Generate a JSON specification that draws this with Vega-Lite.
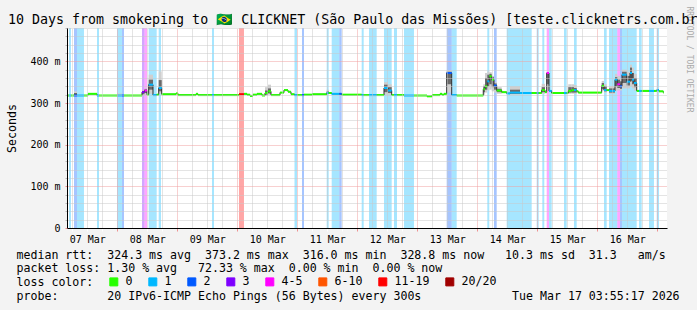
{
  "$schema": "https://vega.github.io/schema/vega-lite/v6.json",
  "width": 600,
  "height": 200,
  "autosize": {"type": "none"},
  "padding": {"left": 67, "top": 28, "right": 30, "bottom": 82},
  "background": "#f3f3f3",
  "title": {
    "text": "10 Days from smokeping to 🇧🇷 CLICKNET (São Paulo das Missões) [teste.clicknetrs.com.br]",
    "anchor": "start", "frame": "group", "dx": -59, "dy": 37, "offset": 6, "baseline": "alphabetic",
    "font": "DejaVu Sans Mono", "fontSize": 13.3, "fontWeight": "normal", "color": "#000000"
  },
  "config": {"view": {"fill": "white", "stroke": null}, "font": "DejaVu Sans Mono"},
  "datasets": {
    "loss": [
      {"t": "2026-03-07T04:43:00Z", "t2": "2026-03-07T05:31:00Z", "l": "1"},
      {"t": "2026-03-07T06:43:00Z", "t2": "2026-03-07T07:55:00Z", "l": "2"},
      {"t": "2026-03-07T07:55:00Z", "t2": "2026-03-07T10:43:00Z", "l": "1"},
      {"t": "2026-03-07T15:55:00Z", "t2": "2026-03-07T16:43:00Z", "l": "1"},
      {"t": "2026-03-07T23:55:00Z", "t2": "2026-03-08T01:55:00Z", "l": "1"},
      {"t": "2026-03-08T01:55:00Z", "t2": "2026-03-08T02:43:00Z", "l": "2"},
      {"t": "2026-03-08T09:55:00Z", "t2": "2026-03-08T10:55:00Z", "l": "3"},
      {"t": "2026-03-08T10:55:00Z", "t2": "2026-03-08T11:55:00Z", "l": "4-5"},
      {"t": "2026-03-08T12:36:00Z", "t2": "2026-03-08T15:48:00Z", "l": "1"},
      {"t": "2026-03-08T16:36:00Z", "t2": "2026-03-08T17:31:00Z", "l": "1"},
      {"t": "2026-03-09T13:55:00Z", "t2": "2026-03-09T14:43:00Z", "l": "1"},
      {"t": "2026-03-10T00:43:00Z", "t2": "2026-03-10T02:43:00Z", "l": "11-19"},
      {"t": "2026-03-10T22:55:00Z", "t2": "2026-03-10T23:55:00Z", "l": "1"},
      {"t": "2026-03-11T01:55:00Z", "t2": "2026-03-11T02:43:00Z", "l": "2"},
      {"t": "2026-03-11T11:48:00Z", "t2": "2026-03-11T12:36:00Z", "l": "1"},
      {"t": "2026-03-11T13:48:00Z", "t2": "2026-03-11T16:50:00Z", "l": "1"},
      {"t": "2026-03-11T16:50:00Z", "t2": "2026-03-11T17:48:00Z", "l": "2"},
      {"t": "2026-03-12T01:48:00Z", "t2": "2026-03-12T02:36:00Z", "l": "1"},
      {"t": "2026-03-12T04:43:00Z", "t2": "2026-03-12T07:48:00Z", "l": "1"},
      {"t": "2026-03-12T10:43:00Z", "t2": "2026-03-12T13:48:00Z", "l": "1"},
      {"t": "2026-03-12T14:43:00Z", "t2": "2026-03-12T15:55:00Z", "l": "1"},
      {"t": "2026-03-12T18:43:00Z", "t2": "2026-03-12T22:43:00Z", "l": "1"},
      {"t": "2026-03-13T11:48:00Z", "t2": "2026-03-13T13:48:00Z", "l": "2"},
      {"t": "2026-03-13T13:48:00Z", "t2": "2026-03-13T15:48:00Z", "l": "1"},
      {"t": "2026-03-14T04:02:00Z", "t2": "2026-03-14T04:50:00Z", "l": "1"},
      {"t": "2026-03-14T06:43:00Z", "t2": "2026-03-14T07:48:00Z", "l": "2"},
      {"t": "2026-03-14T11:48:00Z", "t2": "2026-03-14T21:48:00Z", "l": "1"},
      {"t": "2026-03-14T23:48:00Z", "t2": "2026-03-15T00:36:00Z", "l": "1"},
      {"t": "2026-03-15T02:02:00Z", "t2": "2026-03-15T02:50:00Z", "l": "1"},
      {"t": "2026-03-15T03:48:00Z", "t2": "2026-03-15T04:43:00Z", "l": "4-5"},
      {"t": "2026-03-15T04:43:00Z", "t2": "2026-03-15T05:48:00Z", "l": "1"},
      {"t": "2026-03-15T10:43:00Z", "t2": "2026-03-15T11:48:00Z", "l": "1"},
      {"t": "2026-03-15T14:43:00Z", "t2": "2026-03-15T15:48:00Z", "l": "1"},
      {"t": "2026-03-16T02:43:00Z", "t2": "2026-03-16T03:48:00Z", "l": "1"},
      {"t": "2026-03-16T04:43:00Z", "t2": "2026-03-16T08:02:00Z", "l": "1"},
      {"t": "2026-03-16T08:02:00Z", "t2": "2026-03-16T09:07:00Z", "l": "4-5"},
      {"t": "2026-03-16T09:07:00Z", "t2": "2026-03-16T09:55:00Z", "l": "2"},
      {"t": "2026-03-16T09:55:00Z", "t2": "2026-03-16T15:48:00Z", "l": "1"},
      {"t": "2026-03-16T16:43:00Z", "t2": "2026-03-16T17:48:00Z", "l": "1"},
      {"t": "2026-03-16T20:43:00Z", "t2": "2026-03-16T22:43:00Z", "l": "1"},
      {"t": "2026-03-16T23:48:00Z", "t2": "2026-03-17T00:43:00Z", "l": "1"}
    ],
    "rtt": [
      {"t": "2026-03-07T03:55:17Z", "t2": "2026-03-07T04:43:00Z", "m": 318, "l": "0"},
      {"t": "2026-03-07T04:43:00Z", "t2": "2026-03-07T05:31:00Z", "m": 318, "l": "1"},
      {"t": "2026-03-07T05:31:00Z", "t2": "2026-03-07T06:43:00Z", "m": 318, "l": "0"},
      {"t": "2026-03-07T06:43:00Z", "t2": "2026-03-07T07:55:00Z", "m": 318, "l": "2", "lo": 317, "hi": 328, "ilo": 318, "ihi": 324},
      {"t": "2026-03-07T07:55:00Z", "t2": "2026-03-07T10:43:00Z", "m": 318, "l": "1"},
      {"t": "2026-03-07T10:43:00Z", "t2": "2026-03-07T12:19:00Z", "m": 318, "l": "0"},
      {"t": "2026-03-07T12:19:00Z", "t2": "2026-03-07T15:55:00Z", "m": 322, "l": "0"},
      {"t": "2026-03-07T15:55:00Z", "t2": "2026-03-07T16:43:00Z", "m": 318, "l": "1"},
      {"t": "2026-03-07T16:43:00Z", "t2": "2026-03-07T23:55:00Z", "m": 318, "l": "0"},
      {"t": "2026-03-07T23:55:00Z", "t2": "2026-03-08T01:55:00Z", "m": 318, "l": "1", "lo": 317, "hi": 323},
      {"t": "2026-03-08T01:55:00Z", "t2": "2026-03-08T02:43:00Z", "m": 318, "l": "2"},
      {"t": "2026-03-08T02:43:00Z", "t2": "2026-03-08T09:55:00Z", "m": 318, "l": "0"},
      {"t": "2026-03-08T09:55:00Z", "t2": "2026-03-08T10:55:00Z", "m": 326, "l": "3", "lo": 318, "hi": 331, "ilo": 321, "ihi": 329},
      {"t": "2026-03-08T10:55:00Z", "t2": "2026-03-08T11:55:00Z", "m": 330, "l": "4-5", "lo": 320, "hi": 336, "ilo": 324, "ihi": 333},
      {"t": "2026-03-08T11:55:00Z", "t2": "2026-03-08T12:36:00Z", "m": 320, "l": "0"},
      {"t": "2026-03-08T12:36:00Z", "t2": "2026-03-08T14:19:00Z", "m": 344, "l": "1", "lo": 322, "hi": 368, "ilo": 332, "ihi": 356},
      {"t": "2026-03-08T14:19:00Z", "t2": "2026-03-08T15:48:00Z", "m": 319, "l": "1"},
      {"t": "2026-03-08T15:48:00Z", "t2": "2026-03-08T16:36:00Z", "m": 320, "l": "0"},
      {"t": "2026-03-08T16:36:00Z", "t2": "2026-03-08T17:48:00Z", "m": 336, "l": "1", "lo": 322, "hi": 376, "ilo": 328, "ihi": 355},
      {"t": "2026-03-08T17:48:00Z", "t2": "2026-03-08T23:31:00Z", "m": 321, "l": "0"},
      {"t": "2026-03-08T23:31:00Z", "t2": "2026-03-09T00:19:00Z", "m": 323, "l": "0"},
      {"t": "2026-03-09T00:19:00Z", "t2": "2026-03-09T07:31:00Z", "m": 319, "l": "0"},
      {"t": "2026-03-09T07:31:00Z", "t2": "2026-03-09T08:19:00Z", "m": 322, "l": "0"},
      {"t": "2026-03-09T08:19:00Z", "t2": "2026-03-09T13:55:00Z", "m": 319, "l": "0"},
      {"t": "2026-03-09T13:55:00Z", "t2": "2026-03-09T14:43:00Z", "m": 319, "l": "1"},
      {"t": "2026-03-09T14:43:00Z", "t2": "2026-03-10T00:43:00Z", "m": 319, "l": "0"},
      {"t": "2026-03-10T00:43:00Z", "t2": "2026-03-10T02:43:00Z", "m": 321, "l": "11-19"},
      {"t": "2026-03-10T02:43:00Z", "t2": "2026-03-10T03:55:00Z", "m": 322, "l": "0"},
      {"t": "2026-03-10T03:55:00Z", "t2": "2026-03-10T05:07:00Z", "m": 320, "l": "0"},
      {"t": "2026-03-10T05:07:00Z", "t2": "2026-03-10T06:19:00Z", "m": 317, "l": "0"},
      {"t": "2026-03-10T06:19:00Z", "t2": "2026-03-10T07:55:00Z", "m": 320, "l": "0"},
      {"t": "2026-03-10T07:55:00Z", "t2": "2026-03-10T09:55:00Z", "m": 322, "l": "0"},
      {"t": "2026-03-10T09:55:00Z", "t2": "2026-03-10T11:07:00Z", "m": 318, "l": "0"},
      {"t": "2026-03-10T11:07:00Z", "t2": "2026-03-10T12:19:00Z", "m": 324, "l": "0", "lo": 318, "hi": 338, "ilo": 320, "ihi": 330},
      {"t": "2026-03-10T12:19:00Z", "t2": "2026-03-10T13:31:00Z", "m": 328, "l": "0", "lo": 320, "hi": 344, "ilo": 323, "ihi": 335},
      {"t": "2026-03-10T13:31:00Z", "t2": "2026-03-10T17:07:00Z", "m": 319, "l": "0"},
      {"t": "2026-03-10T17:07:00Z", "t2": "2026-03-10T18:43:00Z", "m": 325, "l": "0"},
      {"t": "2026-03-10T18:43:00Z", "t2": "2026-03-10T20:19:00Z", "m": 331, "l": "0"},
      {"t": "2026-03-10T20:19:00Z", "t2": "2026-03-10T21:31:00Z", "m": 327, "l": "0"},
      {"t": "2026-03-10T21:31:00Z", "t2": "2026-03-10T22:55:00Z", "m": 321, "l": "0"},
      {"t": "2026-03-10T22:55:00Z", "t2": "2026-03-10T23:55:00Z", "m": 319, "l": "1"},
      {"t": "2026-03-10T23:55:00Z", "t2": "2026-03-11T01:55:00Z", "m": 319, "l": "0"},
      {"t": "2026-03-11T01:55:00Z", "t2": "2026-03-11T02:43:00Z", "m": 319, "l": "2"},
      {"t": "2026-03-11T02:43:00Z", "t2": "2026-03-11T05:55:00Z", "m": 320, "l": "0"},
      {"t": "2026-03-11T05:55:00Z", "t2": "2026-03-11T11:48:00Z", "m": 321, "l": "0"},
      {"t": "2026-03-11T11:48:00Z", "t2": "2026-03-11T12:36:00Z", "m": 324, "l": "1", "lo": 320, "hi": 332, "ilo": 322, "ihi": 328},
      {"t": "2026-03-11T12:36:00Z", "t2": "2026-03-11T13:48:00Z", "m": 324, "l": "0"},
      {"t": "2026-03-11T13:48:00Z", "t2": "2026-03-11T16:50:00Z", "m": 322, "l": "1"},
      {"t": "2026-03-11T16:50:00Z", "t2": "2026-03-11T17:48:00Z", "m": 322, "l": "2"},
      {"t": "2026-03-11T17:48:00Z", "t2": "2026-03-12T01:48:00Z", "m": 320, "l": "0"},
      {"t": "2026-03-12T01:48:00Z", "t2": "2026-03-12T02:36:00Z", "m": 319, "l": "1"},
      {"t": "2026-03-12T02:36:00Z", "t2": "2026-03-12T04:43:00Z", "m": 319, "l": "0"},
      {"t": "2026-03-12T04:43:00Z", "t2": "2026-03-12T07:48:00Z", "m": 319, "l": "1"},
      {"t": "2026-03-12T07:48:00Z", "t2": "2026-03-12T10:43:00Z", "m": 319, "l": "0"},
      {"t": "2026-03-12T10:43:00Z", "t2": "2026-03-12T12:19:00Z", "m": 336, "l": "1", "lo": 320, "hi": 350, "ilo": 326, "ihi": 344},
      {"t": "2026-03-12T12:19:00Z", "t2": "2026-03-12T13:48:00Z", "m": 330, "l": "1", "lo": 320, "hi": 345, "ilo": 324, "ihi": 338},
      {"t": "2026-03-12T13:48:00Z", "t2": "2026-03-12T14:43:00Z", "m": 319, "l": "0"},
      {"t": "2026-03-12T14:43:00Z", "t2": "2026-03-12T15:55:00Z", "m": 319, "l": "1"},
      {"t": "2026-03-12T15:55:00Z", "t2": "2026-03-12T18:43:00Z", "m": 319, "l": "0"},
      {"t": "2026-03-12T18:43:00Z", "t2": "2026-03-12T22:43:00Z", "m": 318, "l": "1"},
      {"t": "2026-03-12T22:43:00Z", "t2": "2026-03-13T03:55:00Z", "m": 318, "l": "0"},
      {"t": "2026-03-13T03:55:00Z", "t2": "2026-03-13T05:55:00Z", "m": 316, "l": "0"},
      {"t": "2026-03-13T05:55:00Z", "t2": "2026-03-13T09:07:00Z", "m": 319, "l": "0"},
      {"t": "2026-03-13T09:07:00Z", "t2": "2026-03-13T09:55:00Z", "m": 322, "l": "0"},
      {"t": "2026-03-13T09:55:00Z", "t2": "2026-03-13T10:43:00Z", "m": 320, "l": "0"},
      {"t": "2026-03-13T10:43:00Z", "t2": "2026-03-13T11:48:00Z", "m": 322, "l": "0"},
      {"t": "2026-03-13T11:48:00Z", "t2": "2026-03-13T13:48:00Z", "m": 372, "l": "2", "lo": 325, "hi": 378, "ilo": 345, "ihi": 375},
      {"t": "2026-03-13T13:48:00Z", "t2": "2026-03-13T15:48:00Z", "m": 319, "l": "1"},
      {"t": "2026-03-13T15:48:00Z", "t2": "2026-03-14T02:26:00Z", "m": 318, "l": "0"},
      {"t": "2026-03-14T02:26:00Z", "t2": "2026-03-14T03:07:00Z", "m": 333, "l": "0", "lo": 320, "hi": 345, "ilo": 326, "ihi": 340},
      {"t": "2026-03-14T03:07:00Z", "t2": "2026-03-14T04:02:00Z", "m": 340, "l": "0", "lo": 325, "hi": 372, "ilo": 332, "ihi": 360},
      {"t": "2026-03-14T04:02:00Z", "t2": "2026-03-14T04:50:00Z", "m": 352, "l": "1", "lo": 330, "hi": 376, "ilo": 340, "ihi": 368},
      {"t": "2026-03-14T04:50:00Z", "t2": "2026-03-14T05:48:00Z", "m": 364, "l": "0", "lo": 332, "hi": 374, "ilo": 345, "ihi": 370},
      {"t": "2026-03-14T05:48:00Z", "t2": "2026-03-14T06:43:00Z", "m": 356, "l": "0", "lo": 328, "hi": 365, "ilo": 338, "ihi": 362},
      {"t": "2026-03-14T06:43:00Z", "t2": "2026-03-14T07:48:00Z", "m": 342, "l": "2", "lo": 325, "hi": 350, "ilo": 332, "ihi": 347},
      {"t": "2026-03-14T07:48:00Z", "t2": "2026-03-14T09:48:00Z", "m": 330, "l": "0", "lo": 322, "hi": 338, "ilo": 326, "ihi": 334},
      {"t": "2026-03-14T09:48:00Z", "t2": "2026-03-14T11:48:00Z", "m": 326, "l": "0"},
      {"t": "2026-03-14T11:48:00Z", "t2": "2026-03-14T13:07:00Z", "m": 323, "l": "1"},
      {"t": "2026-03-14T13:07:00Z", "t2": "2026-03-14T17:07:00Z", "m": 325, "l": "1", "lo": 320, "hi": 340, "ilo": 322, "ihi": 332},
      {"t": "2026-03-14T17:07:00Z", "t2": "2026-03-14T21:48:00Z", "m": 324, "l": "1"},
      {"t": "2026-03-14T21:48:00Z", "t2": "2026-03-14T23:48:00Z", "m": 324, "l": "0"},
      {"t": "2026-03-14T23:48:00Z", "t2": "2026-03-15T00:36:00Z", "m": 324, "l": "1"},
      {"t": "2026-03-15T00:36:00Z", "t2": "2026-03-15T01:48:00Z", "m": 324, "l": "0"},
      {"t": "2026-03-15T01:48:00Z", "t2": "2026-03-15T03:07:00Z", "m": 331, "l": "0", "lo": 322, "hi": 346, "ilo": 326, "ihi": 338},
      {"t": "2026-03-15T03:07:00Z", "t2": "2026-03-15T03:48:00Z", "m": 326, "l": "0"},
      {"t": "2026-03-15T03:48:00Z", "t2": "2026-03-15T04:43:00Z", "m": 372, "l": "4-5", "lo": 330, "hi": 373, "ilo": 345, "ihi": 370},
      {"t": "2026-03-15T04:43:00Z", "t2": "2026-03-15T05:48:00Z", "m": 329, "l": "1"},
      {"t": "2026-03-15T05:48:00Z", "t2": "2026-03-15T10:43:00Z", "m": 324, "l": "0"},
      {"t": "2026-03-15T10:43:00Z", "t2": "2026-03-15T11:48:00Z", "m": 324, "l": "1"},
      {"t": "2026-03-15T11:48:00Z", "t2": "2026-03-15T12:26:00Z", "m": 324, "l": "0"},
      {"t": "2026-03-15T12:26:00Z", "t2": "2026-03-15T13:48:00Z", "m": 329, "l": "0", "lo": 322, "hi": 345, "ilo": 325, "ihi": 338},
      {"t": "2026-03-15T13:48:00Z", "t2": "2026-03-15T14:43:00Z", "m": 331, "l": "0", "lo": 322, "hi": 345, "ilo": 325, "ihi": 338},
      {"t": "2026-03-15T14:43:00Z", "t2": "2026-03-15T15:48:00Z", "m": 331, "l": "1", "lo": 322, "hi": 343, "ilo": 325, "ihi": 336},
      {"t": "2026-03-15T15:48:00Z", "t2": "2026-03-15T16:26:00Z", "m": 328, "l": "0"},
      {"t": "2026-03-15T16:26:00Z", "t2": "2026-03-16T01:48:00Z", "m": 325, "l": "0"},
      {"t": "2026-03-16T01:48:00Z", "t2": "2026-03-16T02:43:00Z", "m": 341, "l": "0", "lo": 330, "hi": 353, "ilo": 334, "ihi": 348},
      {"t": "2026-03-16T02:43:00Z", "t2": "2026-03-16T03:48:00Z", "m": 331, "l": "1", "lo": 325, "hi": 345, "ilo": 328, "ihi": 340},
      {"t": "2026-03-16T03:48:00Z", "t2": "2026-03-16T04:43:00Z", "m": 331, "l": "0"},
      {"t": "2026-03-16T04:43:00Z", "t2": "2026-03-16T07:07:00Z", "m": 329, "l": "1", "lo": 322, "hi": 340, "ilo": 325, "ihi": 335},
      {"t": "2026-03-16T07:07:00Z", "t2": "2026-03-16T08:02:00Z", "m": 356, "l": "1", "lo": 330, "hi": 370, "ilo": 340, "ihi": 362},
      {"t": "2026-03-16T08:02:00Z", "t2": "2026-03-16T09:07:00Z", "m": 345, "l": "4-5", "lo": 330, "hi": 365, "ilo": 336, "ihi": 356},
      {"t": "2026-03-16T09:07:00Z", "t2": "2026-03-16T09:55:00Z", "m": 340, "l": "2", "lo": 330, "hi": 360, "ilo": 334, "ihi": 352},
      {"t": "2026-03-16T09:55:00Z", "t2": "2026-03-16T11:48:00Z", "m": 368, "l": "1", "lo": 335, "hi": 380, "ilo": 348, "ihi": 375},
      {"t": "2026-03-16T11:48:00Z", "t2": "2026-03-16T13:07:00Z", "m": 351, "l": "1", "lo": 335, "hi": 375, "ilo": 342, "ihi": 365},
      {"t": "2026-03-16T13:07:00Z", "t2": "2026-03-16T13:55:00Z", "m": 372, "l": "1", "lo": 340, "hi": 392, "ilo": 352, "ihi": 385},
      {"t": "2026-03-16T13:55:00Z", "t2": "2026-03-16T14:43:00Z", "m": 356, "l": "1", "lo": 335, "hi": 385, "ilo": 345, "ihi": 372},
      {"t": "2026-03-16T14:43:00Z", "t2": "2026-03-16T15:48:00Z", "m": 348, "l": "1", "lo": 330, "hi": 370, "ilo": 338, "ihi": 360},
      {"t": "2026-03-16T15:48:00Z", "t2": "2026-03-16T16:43:00Z", "m": 329, "l": "0"},
      {"t": "2026-03-16T16:43:00Z", "t2": "2026-03-16T17:48:00Z", "m": 329, "l": "1"},
      {"t": "2026-03-16T17:48:00Z", "t2": "2026-03-16T20:43:00Z", "m": 329, "l": "0"},
      {"t": "2026-03-16T20:43:00Z", "t2": "2026-03-16T22:43:00Z", "m": 329, "l": "1"},
      {"t": "2026-03-16T22:43:00Z", "t2": "2026-03-16T23:48:00Z", "m": 329, "l": "0"},
      {"t": "2026-03-16T23:48:00Z", "t2": "2026-03-17T00:43:00Z", "m": 331, "l": "1"},
      {"t": "2026-03-17T00:43:00Z", "t2": "2026-03-17T02:26:00Z", "m": 328, "l": "0"},
      {"t": "2026-03-17T02:26:00Z", "t2": "2026-03-17T02:43:00Z", "m": 325, "l": "0"}
    ]
  },
  "resolve": {"axis": {"x": "independent", "y": "independent"}},
  "layer": [
    {
      "data": {"name": "loss"},
      "mark": {"type": "rect", "fillOpacity": 0.35, "clip": true},
      "encoding": {
        "x": {
          "field": "t", "type": "temporal",
          "scale": {"type": "utc", "domain": [{"year": 2026, "month": 3, "date": 7, "hours": 3, "minutes": 55, "seconds": 17, "utc": true}, {"year": 2026, "month": 3, "date": 17, "hours": 3, "minutes": 55, "seconds": 17, "utc": true}]},
          "axis": {
            "values": [1772863200000, 1772884800000, 1772906400000,
              1772928000000, 1772949600000, 1772971200000, 1772992800000,
              1773014400000, 1773036000000, 1773057600000, 1773079200000,
              1773100800000, 1773122400000, 1773144000000, 1773165600000,
              1773187200000, 1773208800000, 1773230400000, 1773252000000,
              1773273600000, 1773295200000, 1773316800000, 1773338400000,
              1773360000000, 1773381600000, 1773403200000, 1773424800000,
              1773446400000, 1773468000000, 1773489600000, 1773511200000,
              1773532800000, 1773554400000, 1773576000000, 1773597600000,
              1773619200000, 1773640800000, 1773662400000, 1773684000000,
              1773705600000],
            "labelExpr": "utchours(datum.value) == 12 ? utcFormat(datum.value, '%d %b') : ''",
            "labelFont": "DejaVu Sans Mono", "labelFontSize": 10, "labelColor": "#000000",
            "labelOverlap": false, "labelFlush": false, "labelPadding": 3,
            "tickSize": 3,
            "tickColor": {"condition": {"test": "utchours(datum.value) == 0", "value": "#ee9090"}, "value": "#ffffff"},
            "grid": true, "gridDash": [1, 1], "gridOpacity": 1,
            "gridColor": {"condition": {"test": "utchours(datum.value) == 0", "value": "#f0a0a0"}, "value": "#c8c8c8"},
            "domainColor": "#000000",
            "zindex": 1,
            "title": [
              "median rtt:\u00a0 324.3 ms avg\u00a0 373.2 ms max\u00a0 316.0 ms min\u00a0 328.8 ms now\u00a0\u00a0 10.3 ms sd\u00a0 31.3\u00a0\u00a0 am/s",
              "packet loss: 1.30 % avg\u00a0\u00a0 72.33 % max\u00a0 0.00 % min\u00a0 0.00 % now",
              "loss color:",
              "probe:\u00a0\u00a0\u00a0\u00a0\u00a0\u00a0 20 IPv6-ICMP Echo Pings (56 Bytes) every 300s\u00a0\u00a0\u00a0\u00a0\u00a0\u00a0\u00a0\u00a0\u00a0\u00a0\u00a0\u00a0 Tue Mar 17 03:55:17 2026"
            ],
            "titleFont": "DejaVu Sans Mono", "titleFontSize": 11.6, "titleFontWeight": "normal", "titleColor": "#000000",
            "titleAnchor": "start", "titleAlign": "left", "titleBaseline": "top",
            "titleX": -51, "titleY": 21, "titleLineHeight": 13.7
          }
        },
        "x2": {"field": "t2"},
        "color": {
          "field": "l", "type": "nominal",
          "scale": {"domain": ["0", "1", "2", "3", "4-5", "6-10", "11-19", "20/20"], "range": ["#26ff00", "#00b8ff", "#0059ff", "#7e00ff", "#ff00ff", "#ff5500", "#ff0000", "#a00000"]},
          "legend": {
            "orient": "none", "legendX": 41, "legendY": 248, "direction": "horizontal", "padding": 0,
            "title": null,
            "labelFont": "DejaVu Sans Mono", "labelFontSize": 11.6, "labelColor": "#000000", "labelOffset": 6,
            "columnPadding": 13, "symbolType": "square", "symbolSize": 64, "symbolStrokeColor": "#000000", "symbolStrokeWidth": 1, "symbolOpacity": 1,
            "encode": {"symbols": {"update": {"fillOpacity": {"value": 1}, "stroke": {"value": "#000000"}, "strokeWidth": {"value": 1}}}}
          }
        }
      }
    },
    {
      "data": {"name": "rtt"},
      "mark": {"type": "rect", "color": "#cfcfcf", "clip": true},
      "encoding": {
        "x": {"field": "t", "type": "temporal", "axis": null},
        "x2": {"field": "t2"},
        "y": {
          "field": "lo", "type": "quantitative",
          "scale": {"domain": [0, 480], "nice": false},
          "axis": {
            "values": [0, 20, 40, 60, 80, 100, 120, 140, 160, 180, 200, 220, 240, 260, 280, 300, 320, 340, 360, 380, 400, 420, 440, 460, 480],
            "labelExpr": "datum.value % 100 == 0 ? (datum.value == 0 ? '0' : datum.value + ' m') : ''",
            "labelFont": "DejaVu Sans Mono", "labelFontSize": 10, "labelColor": "#000000", "labelPadding": 5, "labelOverlap": false,
            "tickSize": 2,
            "tickColor": {"condition": {"test": "datum.value % 100 == 0", "value": "#ee9090"}, "value": "#bbbbbb"},
            "grid": true, "gridDash": [1, 1], "gridOpacity": 1,
            "gridColor": {"condition": {"test": "datum.value % 100 == 0", "value": "#f0a0a0"}, "value": "#c8c8c8"},
            "domainColor": "#000000",
            "title": "Seconds", "titleFont": "DejaVu Sans Mono", "titleFontSize": 11.6, "titleFontWeight": "normal", "titleColor": "#000000", "titlePadding": 12,
            "zindex": 1
          }
        },
        "y2": {"field": "hi"}
      }
    },
    {
      "data": {"name": "rtt"},
      "mark": {"type": "rect", "color": "#6a6a6a", "clip": true},
      "encoding": {
        "x": {"field": "t", "type": "temporal", "axis": null},
        "x2": {"field": "t2"},
        "y": {
          "field": "ilo", "type": "quantitative",
          "scale": {"domain": [0, 480], "nice": false},
          "axis": {
            "orient": "right", "title": "RRDTOOL / TOBI OETIKER", "labels": false, "ticks": false, "domain": false, "grid": false,
            "titleAngle": 90, "titleColor": "#aaaaaa", "titleFont": "DejaVu Sans Mono", "titleFontSize": 8, "titleFontWeight": "normal",
            "titleX": 21, "titleY": 31, "titleAlign": "center", "titleBaseline": "middle"
          }
        },
        "y2": {"field": "ihi"}
      }
    },
    {
      "data": {"name": "rtt"},
      "mark": {"type": "line", "interpolate": "step-after", "color": "#303030", "strokeWidth": 1, "clip": true},
      "encoding": {
        "x": {"field": "t", "type": "temporal", "axis": null},
        "y": {"field": "m", "type": "quantitative", "scale": {"domain": [0, 480], "nice": false}, "axis": null}
      }
    },
    {
      "data": {"name": "rtt"},
      "mark": {"type": "rule", "strokeWidth": 2, "clip": true},
      "encoding": {
        "x": {"field": "t", "type": "temporal", "axis": null},
        "x2": {"field": "t2"},
        "y": {"field": "m", "type": "quantitative", "scale": {"domain": [0, 480], "nice": false}, "axis": null},
        "stroke": {
          "field": "l", "type": "nominal",
          "scale": {"domain": ["0", "1", "2", "3", "4-5", "6-10", "11-19", "20/20"], "range": ["#26ff00", "#00b8ff", "#0059ff", "#7e00ff", "#ff00ff", "#ff5500", "#ff0000", "#a00000"]},
          "legend": null
        }
      }
    }
  ]
}
